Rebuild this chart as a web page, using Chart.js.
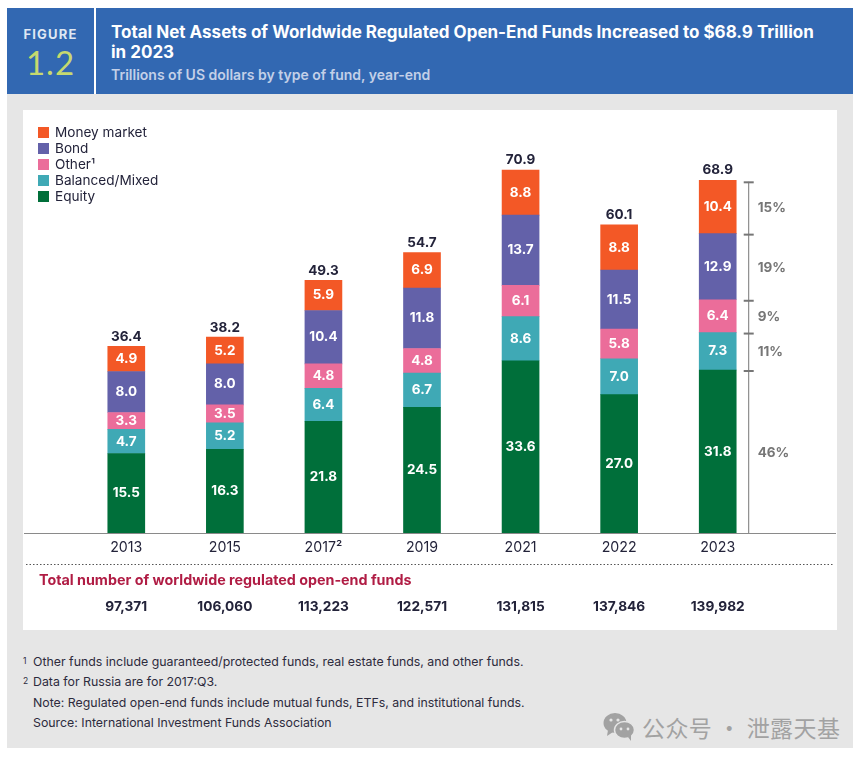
<!DOCTYPE html>
<html>
<head>
<meta charset="utf-8">
<script src="https://cdn.jsdelivr.net/npm/chart.js@4"></script>
<style>
html, body { margin: 0; padding: 0; background: #fff; }
body { width: 868px; height: 761px; position: relative; overflow: hidden; font-family: Inter, sans-serif; color: #23233a; }
.abs { position: absolute; white-space: nowrap; }
#gray { left: 7px; top: 94px; width: 846px; height: 654px; background: #e6e6e6; }
#head { left: 7px; top: 8px; width: 846px; height: 86px; background: #3268b2; }
#divider { left: 94px; top: 8px; width: 2px; height: 86px; background: #fff; }
#white { left: 23px; top: 110px; width: 814px; height: 520px; background: #fff; }
#figure { left: 7px; width: 87px; top: 26px; text-align: center; font-size: 13px; font-weight: 700; letter-spacing: 1.2px; color: #dfe7f3; }
#num { left: 7px; width: 87px; top: 42px; text-align: center; font-size: 33px; font-weight: 400; letter-spacing: 1px; color: #c6d96f; font-family: Lato, sans-serif; }
#title { left: 111px; top: 22px; font-size: 17px; line-height: 20px; font-weight: 700; color: #fff; }
#sub { left: 111px; top: 66px; font-size: 14px; font-weight: 600; color: #c3d0e8; }
#chartBox { left: 23px; top: 110px; width: 814px; height: 520px; }
#legend { left: 38px; top: 124px; font-size: 13.6px; }
#legend div { height: 16px; line-height: 16px; position: relative; padding-left: 17px; }
#legend i { position: absolute; left: 0; top: 3px; width: 11px; height: 11px; }
.note { left: 33px; font-size: 12.35px; color: #2d2b3d; }
.mark { left: 23px; font-size: 8.5px; color: #2d2b3d; }
#wm { left: 642px; top: 710px; font-family: "Noto Sans CJK SC", sans-serif; font-size: 23px; color: #a2a2a2; letter-spacing: .4px; }
#wmIcon { left: 602px; top: 712px; }
</style>
</head>
<body>
<div class="abs" id="gray"></div>
<div class="abs" id="head"></div>
<div class="abs" id="divider"></div>
<div class="abs" id="white"></div>
<div class="abs" id="figure">FIGURE</div>
<div class="abs" id="num">1.2</div>
<div class="abs" id="title">Total Net Assets of Worldwide Regulated Open-End Funds Increased to $68.9 Trillion<br>in 2023</div>
<div class="abs" id="sub">Trillions of US dollars by type of fund, year-end</div>
<div class="abs" id="chartBox"><canvas id="fundsChart" width="814" height="520"></canvas></div>
<div class="abs" id="legend"></div>
<div class="abs mark" style="top:656px">1</div>
<div class="abs note" style="top:654px">Other funds include guaranteed/protected funds, real estate funds, and other funds.</div>
<div class="abs mark" style="top:676px">2</div>
<div class="abs note" style="top:674px">Data for Russia are for 2017:Q3.</div>
<div class="abs note" style="top:695px">Note: Regulated open-end funds include mutual funds, ETFs, and institutional funds.</div>
<div class="abs note" style="top:715px">Source: International Investment Funds Association</div>
<svg class="abs" id="wmIcon" width="34" height="30" viewBox="0 0 34 30">
  <ellipse cx="13" cy="11" rx="11.5" ry="10" fill="#a2a2a2"/>
  <path d="M6 18 L5 24 L11 20 Z" fill="#a2a2a2"/>
  <ellipse cx="22.5" cy="18" rx="10" ry="8.5" fill="#a2a2a2" stroke="#e6e6e6" stroke-width="1.5"/>
  <path d="M26 25 L29 29 L29 22 Z" fill="#a2a2a2"/>
  <circle cx="9" cy="8" r="1.6" fill="#e6e6e6"/><circle cx="16" cy="8" r="1.6" fill="#e6e6e6"/>
  <circle cx="19" cy="17" r="1.4" fill="#e6e6e6"/><circle cx="26" cy="17" r="1.4" fill="#e6e6e6"/>
</svg>
<div class="abs" id="wm">公众号 · 泄露天基</div>

<script>
// data
const years = ['2013', '2015', '2017²', '2019', '2021', '2022', '2023'];
const equity = [15.5, 16.3, 21.8, 24.5, 33.6, 27.0, 31.8];
const balanced = [4.7, 5.2, 6.4, 6.7, 8.6, 7.0, 7.3];
const other = [3.3, 3.5, 4.8, 4.8, 6.1, 5.8, 6.4];
const bond = [8.0, 8.0, 10.4, 11.8, 13.7, 11.5, 12.9];
const moneyMarket = [4.9, 5.2, 5.9, 6.9, 8.8, 8.8, 10.4];
const totals = [36.4, 38.2, 49.3, 54.7, 70.9, 60.1, 68.9];
const fundCounts = ['97,371', '106,060', '113,223', '122,571', '131,815', '137,846', '139,982'];
const shares2023 = ['46%', '11%', '9%', '19%', '15%'];

const seriesNames = ['Equity', 'Balanced/Mixed', 'Other¹', 'Bond', 'Money market'];
const seriesValues = [equity, balanced, other, bond, moneyMarket];
const seriesColors = ['#006f3a', '#3fa9b5', '#eb6d9a', '#6361a9', '#f35826'];

const FONT = 'Inter, sans-serif';
const DARK = '#23233a';

// legend, top item is the top of the stack
document.querySelector('#legend').innerHTML = seriesNames.map((name, i) =>
	`<div><i style="background:${seriesColors[i]}"></i>${name}</div>`).reverse().join('');

// value labels, totals, 2023 bracket, axis line and the fund count row
const annotations = {
	id: 'annotations',
	afterDatasetsDraw(chart) {
		const { ctx, scales: { x, y } } = chart;
		ctx.save();
		ctx.textAlign = 'center';
		ctx.textBaseline = 'middle';

		ctx.font = `700 13.5px ${FONT}`;
		ctx.fillStyle = '#fff';
		seriesValues.forEach((values, s) => {
			const bars = chart.getDatasetMeta(s).data;
			values.forEach((v, i) => {
				ctx.fillText(v.toFixed(1), bars[i].x, (bars[i].y + bars[i].base) / 2);
			});
		});

		ctx.fillStyle = DARK;
		totals.forEach((t, i) => {
			ctx.fillText(t.toFixed(1), x.getPixelForValue(i), y.getPixelForValue(t) - 9.5);
		});

		// axis runs the full width of the white panel
		ctx.strokeStyle = '#8a8a8a';
		ctx.lineWidth = 1;
		ctx.beginPath();
		ctx.moveTo(1, y.bottom + 0.5);
		ctx.lineTo(813, y.bottom + 0.5);
		ctx.stroke();

		// bracket beside the 2023 bar
		const last = years.length - 1;
		const bx = x.getPixelForValue(last) + 31;
		ctx.strokeStyle = '#767676';
		ctx.beginPath();
		ctx.moveTo(bx, y.getPixelForValue(totals[last]) + 2);
		ctx.lineTo(bx, y.bottom);
		ctx.stroke();
		let sum = 0;
		ctx.textAlign = 'left';
		ctx.fillStyle = '#767676';
		ctx.font = `700 13.5px ${FONT}`;
		seriesValues.forEach((values, s) => {
			const from = y.getPixelForValue(sum);
			sum += values[last];
			const to = y.getPixelForValue(sum);
			ctx.lineWidth = 2;
			ctx.beginPath();
			ctx.moveTo(bx - 5, to + (s === 4 ? 2 : 1));
			ctx.lineTo(bx + 5, to + (s === 4 ? 2 : 1));
			ctx.stroke();
			ctx.lineWidth = 1;
			ctx.fillText(shares2023[s], bx + 9, (from + to) / 2 + 1);
		});

		// dotted rule
		ctx.strokeStyle = '#555';
		ctx.setLineDash([1.5, 2]);
		ctx.beginPath();
		ctx.moveTo(3, 454.5);
		ctx.lineTo(811, 454.5);
		ctx.stroke();
		ctx.setLineDash([]);

		ctx.font = `700 14.3px ${FONT}`;
		ctx.fillStyle = '#b01c44';
		ctx.fillText('Total number of worldwide regulated open-end funds', 16, 471);

		ctx.textAlign = 'center';
		ctx.font = `700 13.7px ${FONT}`;
		ctx.fillStyle = DARK;
		fundCounts.forEach((c, i) => {
			ctx.fillText(c, x.getPixelForValue(i), 497);
		});
		ctx.restore();
	}
};

const ctx = document.querySelector('#fundsChart').getContext('2d');
const fundsChart = new Chart(ctx, {
	type: 'bar',
	data: {
		labels: years,
		datasets: seriesNames.map((name, i) => ({
			label: name,
			data: seriesValues[i],
			backgroundColor: seriesColors[i],
			barThickness: 37,
			borderWidth: 0
		}))
	},
	options: {
		responsive: false,
		animation: false,
		layout: { padding: { left: 54, right: 70, top: 12.9, bottom: 0 } },
		plugins: { legend: { display: false }, tooltip: { enabled: false } },
		scales: {
			x: {
				stacked: true,
				grid: { display: false, drawTicks: false },
				border: { display: false },
				ticks: { color: DARK, padding: 6, font: { family: FONT, size: 14.2 }, maxRotation: 0 },
				afterFit: (scale) => { scale.height = 97; }
			},
			y: { stacked: true, display: false, min: 0, max: 80 }
		}
	},
	plugins: [annotations]
});
</script>
</body>
</html>
